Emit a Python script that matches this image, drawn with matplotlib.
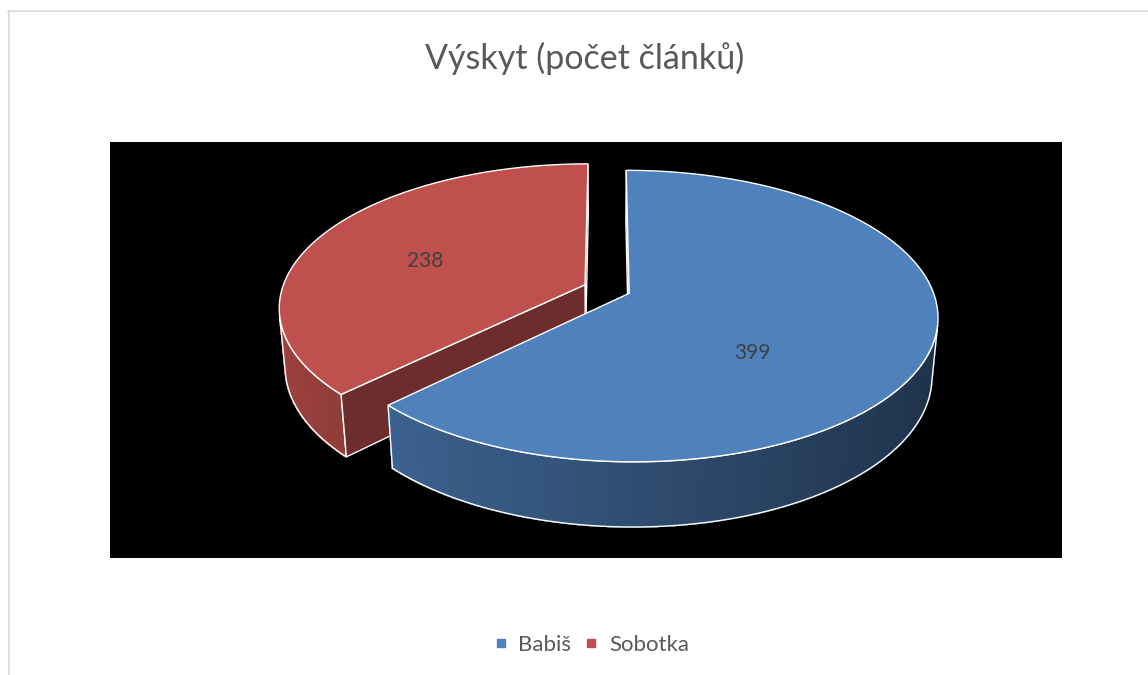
import numpy as np
import matplotlib.pyplot as plt
from matplotlib.patches import Polygon
from matplotlib.lines import Line2D
from matplotlib.colors import to_rgb

names = ['Babiš', 'Sobotka']
counts = [399, 238]
colors = ['#4F81BD', '#C0504D']
title = 'Výskyt (počet článků)'

# 3D view, in pixels of the figure
cx, cy, scale = 607, 289, 303
elev = np.radians(27.7)
dist = 5.7
thick = 0.22
explode = 0.079
label_r = [0.43, 0.6]
label_z = [-0.13, -0.03]

cam = dist * np.array([0.0, -np.cos(elev), np.sin(elev)])


def project(x, y, z):
    ys = y * np.sin(elev) + z * np.cos(elev)
    dc = -y * np.cos(elev) + z * np.sin(elev)
    f = dist / (dist - dc)
    return cx + scale * x * f, cy - scale * ys * f


def cam_dist(x, y, z):
    return np.linalg.norm(cam - np.array([x, y, z]))


def shade(color, k):
    return tuple(np.clip(np.array(to_rgb(color)) * k, 0, 1))


def wall_k(phi):
    return 0.6 + 0.22 * np.cos(phi - np.pi)


plt.rcParams['font.family'] = ['Lato', 'DejaVu Sans']
fig = plt.figure(figsize=(11.48, 6.75), dpi=100)
fig.patch.set_facecolor('white')

# chart border (light grey)
fig.add_artist(Line2D([8 / 1148, 1.0], [1 - 11 / 675] * 2, color='#D9D9D9', lw=1.2))
fig.add_artist(Line2D([8.5 / 1148] * 2, [0, 1 - 11 / 675], color='#D9D9D9', lw=1.2))

ax = fig.add_axes([110 / 1148, (675 - 558) / 675, 952 / 1148, 416 / 675])
ax.set_facecolor('black')
ax.set_xlim(110, 1062)
ax.set_ylim(558, 142)
ax.set_xticks([])
ax.set_yticks([])
for sp in ax.spines.values():
    sp.set_visible(False)

total = float(sum(counts))
slices = []
a0 = np.pi / 2
for i, c in enumerate(counts):
    t1 = a0
    t2 = a0 - 2 * np.pi * c / total
    a0 = t2
    b = (t1 + t2) / 2
    slices.append((i, t1, t2, b, explode * np.cos(b), explode * np.sin(b)))

# back slices first
slices.sort(key=lambda s: -s[5])

for i, t1, t2, b, ox, oy in slices:
    col = colors[i]
    # outer wall
    th = np.linspace(t2, t1, 300)
    mid = (th[:-1] + th[1:]) / 2
    vis = []
    for m in mid:
        p = np.array([ox + np.cos(m), oy + np.sin(m), -thick / 2])
        n = np.array([np.cos(m), np.sin(m), 0.0])
        vis.append(np.dot(n, cam - p) > 0)
    runs = []
    cur = []
    for k, v in enumerate(vis):
        if v:
            cur.append(k)
        elif cur:
            runs.append(cur)
            cur = []
    if cur:
        runs.append(cur)
    for run in runs:
        ts = th[run[0]:run[-1] + 2]
        for k in range(len(ts) - 1):
            a, bb = ts[k], ts[k + 1]
            pts = [project(ox + np.cos(a), oy + np.sin(a), 0),
                   project(ox + np.cos(bb), oy + np.sin(bb), 0),
                   project(ox + np.cos(bb), oy + np.sin(bb), -thick),
                   project(ox + np.cos(a), oy + np.sin(a), -thick)]
            fc = shade(col, wall_k((a + bb) / 2 % (2 * np.pi)))
            ax.add_patch(Polygon(pts, closed=True, fc=fc, ec=fc, lw=0.8, antialiased=False))
        top = [project(ox + np.cos(a), oy + np.sin(a), 0) for a in ts]
        bot = [project(ox + np.cos(a), oy + np.sin(a), -thick) for a in ts[::-1]]
        ax.add_patch(Polygon(top + bot, closed=True, fill=False, ec='white', lw=1.0))

    # cut faces
    faces = []
    for t, nang in ((t1, t1 + np.pi / 2), (t2, t2 - np.pi / 2)):
        n = np.array([np.cos(nang), np.sin(nang), 0.0])
        p = np.array([ox + 0.5 * np.cos(t), oy + 0.5 * np.sin(t), -thick / 2])
        if np.dot(n, cam - p) > 0:
            pts = [project(ox, oy, 0),
                   project(ox + np.cos(t), oy + np.sin(t), 0),
                   project(ox + np.cos(t), oy + np.sin(t), -thick),
                   project(ox, oy, -thick)]
            fc = shade(col, min(wall_k(nang % (2 * np.pi)) + 0.12, 0.9))
            faces.append((cam_dist(*p), pts, fc))
    faces.sort(key=lambda f: -f[0])
    for d, pts, fc in faces:
        ax.add_patch(Polygon(pts, closed=True, fc=fc, ec='white', lw=1.0))

    # top face
    ts = np.linspace(t2, t1, 300)
    pts = [project(ox, oy, 0)] + [project(ox + np.cos(a), oy + np.sin(a), 0) for a in ts]
    ax.add_patch(Polygon(pts, closed=True, fc=col, ec='white', lw=1.0))

    lx, ly = project(ox + label_r[i] * np.cos(b), oy + label_r[i] * np.sin(b), label_z[i])
    ax.text(lx, ly, str(counts[i]), ha='center', va='center', fontsize=15, color='#404040')

fig.text(585 / 1148, 1 - 58 / 675, title, ha='center', va='center', fontsize=24.5, color='#595959')

handles = [Line2D([], [], marker='s', ls='none', markersize=6, color=c) for c in colors]
fig.legend(handles, names, loc='center', bbox_to_anchor=(591 / 1148, 1 - 645 / 675), ncol=2,
           frameon=False, fontsize=16, labelcolor='#595959', handlelength=0.7,
           handletextpad=0.45, columnspacing=0.55)

fig.savefig('out.png', dpi=100)
